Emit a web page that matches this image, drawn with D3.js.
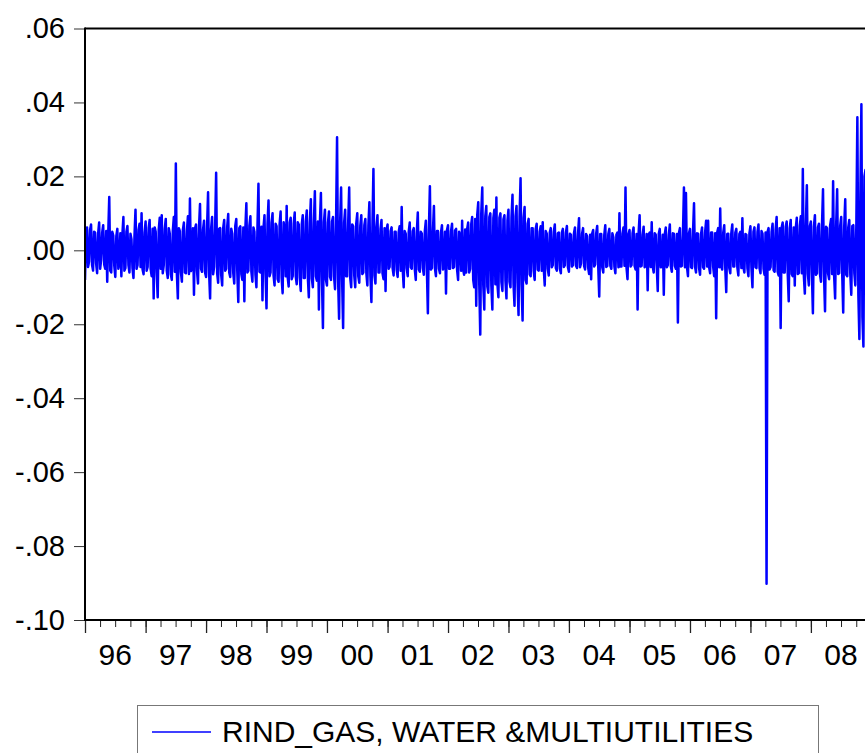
<!DOCTYPE html>
<html>
<head>
<meta charset="utf-8">
<script src="https://cdn.jsdelivr.net/npm/d3@7"></script>
<style>
  body { margin: 0; background: #fff; }
  text { font-family: "Liberation Sans", Arial, sans-serif; fill: #000; }
</style>
</head>
<body>
<svg id="chart" width="865" height="753"></svg>
<script>
// Daily log-return series, sampled 60 times per year, values in basis points.
const returns1996 = [-80,40, 62,-45, -30,55, 70,-40, -55,50, 48,-35, -62,45, 75,-50, -25,48, 68,-38, -50,52, -85,45, 144,-55, -60,50, 40,-42, -72,38, 58,-50, -35,46, -70,42, 90,-55, -48,50, 66,-40, -60,45, 30,-48, -75,40, 110,-50, -40,55, 72,-45, 100,-52, -65,48];
const returns1997 = [78,-55, -45,60, 82,-50, -70,58, -130,62, 50,-60, -127,55, 88,-50, 95,-62, -40,58, 85,-55, -75,60, 45,-65, -80,52, 90,-58, 235,-62, -130,60, 52,-58, -85,55, 75,-60, -62,52, 92,-64, 140,-56, -48,60, -120,58, 70,-55, -90,62, 125,-50, -58,56, 80,-60];
const returns1998 = [-72,62, 157,-60, -130,58, 90,-65, -45,60, 210,-62, -88,58, 60,-66, -95,60, 82,-55, -50,64, 98,-60, -72,58, 45,-62, -90,66, 85,-58, -140,60, 65,-64, -80,62, -138,58, 127,-60, -55,66, 92,-58, -85,62, 50,-65, -100,60, 180,-58, -60,64, -135,60, 95,-62];
const returns1999 = [-157,72, 135,-70, -60,75, 100,-68, -95,72, 65,-78, -85,70, 105,-74, -116,76, 55,-70, 120,-72, -98,75, 88,-78, -70,72, 102,-70, -92,76, 70,-74, -110,70, 95,-75, -75,78, 108,-72, -127,74, 138,-76, -100,72, 160,-70, -82,78, -160,74, 155,-72, -210,76, 110,-80];
const returns2000 = [-95,75, 105,-72, -80,78, 90,-70, -105,74, 306,-76, -185,72, 170,-78, -210,75, 110,-70, -70,72, 170,-74, -100,70, 65,-68, -100,72, 100,-70, -88,66, 95,-64, -60,68, 85,-62, -95,66, 130,-70, -140,64, 220,-68, -90,62, 95,-60, -60,58, 82,-62, -78,60, -110,55];
const returns2001 = [70,-50, -45,52, 62,-48, -68,50, 50,-52, -72,48, 65,-55, 117,-50, -100,52, 45,-48, -70,50, 75,-46, -50,52, 60,-50, -80,48, 102,-52, -58,50, 45,-48, -66,52, 80,-50, -170,54, 173,-52, -48,50, 120,-48, -70,52, 52,-50, -62,48, 68,-52, -45,50, -117,55];
const returns2002 = [68,-50, -50,52, 72,-48, -45,54, 58,-52, -80,50, 40,-55, 80,-52, -66,56, -60,58, 75,-60, -50,70, 90,-80, -100,85, -150,95, 130,-90, -228,100, 170,-95, -160,92, 120,-98, -115,90, 100,-95, -160,88, 110,-92, 143,-90, -127,88, 100,-86, -110,84, 95,-82, -130,80];
const returns2003 = [110,-85, -100,88, 150,-90, -150,92, 120,-88, -175,90, 195,-92, -190,88, 117,-80, -90,72, 85,-65, -70,60, 60,-55, -80,58, 72,-52, -55,50, 65,-55, 76,-48, -95,52, 45,-50, -68,48, 60,-46, -40,50, 70,-48, -55,46, 48,-50, -62,48, 58,-45, -40,48, 66,-46];
const returns2004 = [-58,45, 42,-44, -40,46, 62,-42, -48,44, 87,-46, -35,45, 60,-42, -52,44, 38,-46, -64,42, -78,45, 55,-44, -38,46, 66,-42, -125,44, 44,-46, -60,42, 68,-45, -42,44, 58,-42, -50,46, 35,-44, -62,42, 48,-46, 100,-44, -44,45, 62,-42, 170,-46, -78,44];
const returns2005 = [55,-44, -40,46, 62,-42, -52,44, -160,46, 95,-44, -42,42, 64,-46, -38,44, -108,42, 48,-45, 76,-44, -60,46, 42,-42, -110,44, 58,-46, -45,42, -120,44, 62,-46, -40,42, 70,-44, -58,46, 45,-42, -50,44, -195,46, 60,-44, -42,42, 170,-46, 155,-44, -70,46];
const returns2006 = [58,-46, -48,48, 127,-44, -60,46, 45,-48, -66,44, 62,-46, -50,48, 80,-44, 80,-46, -62,48, 48,-44, -70,46, -184,48, 60,-46, 113,-44, -52,48, 68,-46, -113,44, 45,-48, -62,46, 70,-44, -44,48, 58,-46, -68,44, 50,-48, 87,-46, -60,44, 42,-48, -70,46];
const returns2007 = [65,-48, -100,50, 62,-46, -48,50, 70,-48, -62,52, 45,-50, -66,48, -902,50, 60,-52, -45,50, 72,-54, -58,56, 90,-58, -68,60, -210,62, 75,-60, -60,64, 78,-62, -138,60, 82,-64, -70,62, -95,60, 88,-64, -62,66, 92,-62, 220,-68, -117,66, 176,-64, -95,66];
const returns2008 = [78,-62, -170,64, 95,-66, -62,62, 72,-64, -85,68, 165,-66, -165,64, 60,-62, -78,66, 85,-64, 187,-68, -130,66, 165,-64, -62,66, 90,-62, -168,64, 138,-66, -70,62, 82,-64, -120,66, 68,-62, -95,70, 360,-120, -240,150, 395,-180, -260,200, 217,-190, -230,210, 300,-200];

const sampleYears = [1996, 1997, 1998, 1999, 2000, 2001, 2002, 2003, 2004, 2005, 2006, 2007, 2008];
const yearlyReturns = [returns1996, returns1997, returns1998, returns1999, returns2000, returns2001,
  returns2002, returns2003, returns2004, returns2005, returns2006, returns2007, returns2008];

const yearLabels = ["96", "97", "98", "99", "00", "01", "02", "03", "04", "05", "06", "07", "08"];
const yTickValues = [0.06, 0.04, 0.02, 0.00, -0.02, -0.04, -0.06, -0.08, -0.10];
const yTickLabels = [".06", ".04", ".02", ".00", "-.02", "-.04", "-.06", "-.08", "-.10"];
const seriesName = "RIND_GAS, WATER &MULTIUTILITIES";

// Build dated observations: each year's samples are spread evenly through that year.
const series = [];
sampleYears.forEach((yr, i) => {
  const vals = yearlyReturns[i];
  const start = new Date(yr, 0, 1), end = new Date(yr + 1, 0, 1);
  vals.forEach((v, k) => {
    series.push({ date: new Date(+start + (end - start) * k / vals.length), value: v / 10000 });
  });
});

const svg = d3.select("#chart");
const plot = { left: 85, top: 28.5, bottom: 620, right: 871.5 };

const x = d3.scaleTime()
  .domain([new Date(1996, 0, 1), new Date(2009, 0, 1)])
  .range([plot.left, plot.right]);
const y = d3.scaleLinear()
  .domain([-0.10, 0.06])
  .range([plot.bottom, plot.top]);

// Clip region for the series
svg.append("defs").append("clipPath").attr("id", "plotClip")
  .append("rect")
  .attr("x", plot.left).attr("y", plot.top - 2)
  .attr("width", plot.right - plot.left).attr("height", plot.bottom - plot.top + 2);

// Return series
const line = d3.line().x(d => x(d.date)).y(d => y(d.value));
svg.append("path")
  .datum(series)
  .attr("clip-path", "url(#plotClip)")
  .attr("d", line)
  .attr("fill", "none")
  .attr("stroke", "#0000ff")
  .attr("stroke-width", 2.5)
  .attr("stroke-linejoin", "round");

// Y axis ticks and labels
const yAxis = d3.axisLeft(y)
  .tickValues(yTickValues)
  .tickSize(11)
  .tickPadding(9)
  .tickFormat((d, i) => yTickLabels[i]);
const gy = svg.append("g").attr("transform", `translate(${plot.left},0)`).call(yAxis);
gy.select(".domain").remove();
gy.selectAll(".tick line").attr("stroke", "#333").attr("stroke-width", 1);
gy.selectAll(".tick text")
  .style("font-family", '"Liberation Sans", Arial, sans-serif')
  .style("font-size", "29px").attr("fill", "#000");

// X axis: quarterly minor ticks, yearly major ticks
const gxMinor = svg.append("g").attr("transform", `translate(0,${plot.bottom})`)
  .call(d3.axisBottom(x).ticks(d3.timeMonth.every(3)).tickSize(7).tickFormat(""));
gxMinor.select(".domain").remove();
gxMinor.selectAll(".tick line").attr("stroke", "#222").attr("stroke-width", 1);

const gxMajor = svg.append("g").attr("transform", `translate(0,${plot.bottom})`)
  .call(d3.axisBottom(x).ticks(d3.timeYear.every(1)).tickSize(13).tickFormat(""));
gxMajor.select(".domain").remove();
gxMajor.selectAll(".tick line").attr("stroke", "#222").attr("stroke-width", 1.3);

// Year labels centred in each year
svg.append("g").selectAll("text")
  .data(sampleYears)
  .join("text")
  .attr("x", d => x(new Date(d, 6, 1)))
  .attr("y", 665)
  .attr("text-anchor", "middle")
  .style("font-size", "30px")
  .text((d, i) => yearLabels[i]);

// Frame: left axis, top and bottom borders
const frame = svg.append("g").attr("stroke", "#000").attr("stroke-width", 2);
frame.append("line").attr("x1", plot.left).attr("x2", plot.left).attr("y1", plot.top - 1).attr("y2", plot.bottom + 1);
frame.append("line").attr("x1", plot.left).attr("x2", plot.right).attr("y1", plot.top).attr("y2", plot.top);
frame.append("line").attr("x1", plot.left).attr("x2", plot.right).attr("y1", plot.bottom).attr("y2", plot.bottom);

// Legend
const legend = svg.append("g");
legend.append("rect")
  .attr("x", 137.5).attr("y", 705.5).attr("width", 681).attr("height", 70)
  .attr("fill", "#fff").attr("stroke", "#777").attr("stroke-width", 1);
legend.append("line")
  .attr("x1", 152).attr("x2", 211).attr("y1", 732).attr("y2", 732)
  .attr("stroke", "#0000ff").attr("stroke-width", 1.5);
legend.append("text")
  .attr("x", 222).attr("y", 742)
  .style("font-size", "30px")
  .text(seriesName);
</script>
</body>
</html>
